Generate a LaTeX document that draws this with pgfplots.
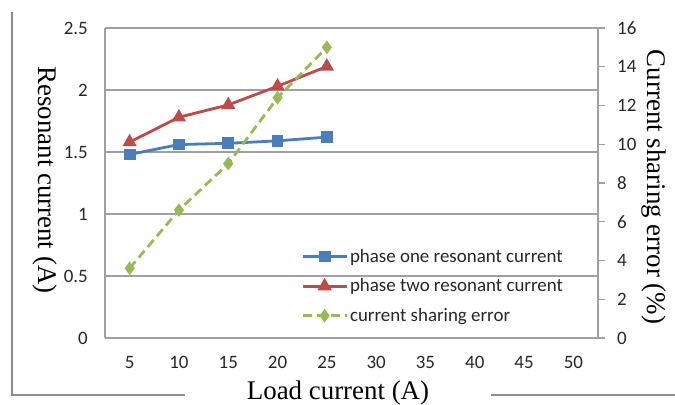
\documentclass[border=0pt]{standalone}
\usepackage{pgfplots}
\pgfplotsset{compat=1.18}
\usepackage{fontspec}
\setmainfont{Liberation Serif}
\newfontfamily\calib{Carlito}

\definecolor{xlblue}{HTML}{4A7EBB}
\definecolor{xlred}{HTML}{BE4B48}
\definecolor{xlgreen}{HTML}{98B954}
\definecolor{gridgray}{HTML}{A0A0A0}
\definecolor{framegray}{HTML}{8C8C8C}

\pgfplotsset{
  base/.style={
    width=493bp, height=310bp, scale only axis,
    at={(105bp,67bp)}, anchor=south west,
    xmin=2.5, xmax=52.5,
    ticklabel style={font=\calib\fontsize{19}{22}\selectfont, text=black!85},
    /pgf/number format/assume math mode=true,
    axis line style={gridgray, line width=1.2bp},
  },
  phaseone/.style={xlblue, line width=2.8bp, mark=square*, mark size=4.5bp, mark options={solid}},
  phasetwo/.style={xlred, line width=2.8bp, mark=triangle*, mark size=5.5bp, mark options={solid}},
  shareerr/.style={xlgreen, line width=2.8bp, dash pattern=on 9bp off 5bp, mark=diamond*, mark size=4.5bp, mark options={solid}},
}

\begin{document}
\begin{tikzpicture}
\path[use as bounding box] (0,0) rectangle (675bp,405bp);
\draw[framegray, line width=2bp] (12bp,393bp) -- (12bp,10bp) -- (185bp,10bp);
\draw[framegray, line width=2bp] (491bp,10bp) -- (675bp,10bp);

\begin{axis}[base,
  ymin=0, ymax=2.5,
  axis x line*=bottom, axis y line*=left,
  xtick={5,10,...,50},
  ytick={0,0.5,1,1.5,2,2.5},
  yticklabels={0,0.5,1,1.5,2,2.5},
  major tick length=0pt,
  ymajorgrids, grid style={gridgray, line width=1.2bp},
  yticklabel style={inner sep=0pt, xshift=-17bp},
  xticklabel style={inner sep=0pt, yshift=-18bp},
  xlabel={Load current (A)},
  every axis x label/.style={at={(axis description cs:0.4726,0)}, anchor=base, yshift=-61bp,
    font=\fontsize{27}{30}\selectfont},
  ylabel={Resonant current (A)},
  every axis y label/.style={at={(axis description cs:-0.1217,0.51)}, anchor=center, rotate=-90,
    font=\fontsize{27}{30}\selectfont},
]
\addplot[phaseone] coordinates {(5,1.48) (10,1.56) (15,1.57) (20,1.59) (25,1.62)};
\addplot[phasetwo] coordinates {(5,1.58) (10,1.78) (15,1.88) (20,2.03) (25,2.19)};
\end{axis}

\begin{axis}[base,
  ymin=0, ymax=16,
  axis x line=none, axis y line*=right,
  xtick=\empty,
  ytick={0,2,...,16},
  tick align=outside, major tick length=7bp,
  ytick style={gridgray, line width=1.2bp},
  yticklabel style={inner sep=0pt, xshift=12bp, anchor=west},
  ylabel={Current sharing error (\%)},
  every axis y label/.style={at={(axis description cs:1.1136,0.487)}, anchor=center, rotate=-90,
    font=\fontsize{27}{30}\selectfont},
  legend style={at={(0.3976,0.2935)}, anchor=north west, draw=none, fill=none,
    inner sep=0pt, row sep=11bp,
    font=\calib\fontsize{19}{22}\selectfont, text=black!85},
  legend cell align=left,
  legend image code/.code={\draw[mark repeat=2, mark phase=2, #1] plot coordinates {(0bp,0bp) (22bp,0bp) (44bp,0bp)};},
]
\addlegendimage{phaseone}
\addlegendentry{phase one resonant current}
\addlegendimage{phasetwo}
\addlegendentry{phase two resonant current}
\addplot[shareerr] coordinates {(5,3.6) (10,6.6) (15,9.0) (20,12.4) (25,15.0)};
\addlegendentry{current sharing error}
\end{axis}
\end{tikzpicture}
\end{document}
